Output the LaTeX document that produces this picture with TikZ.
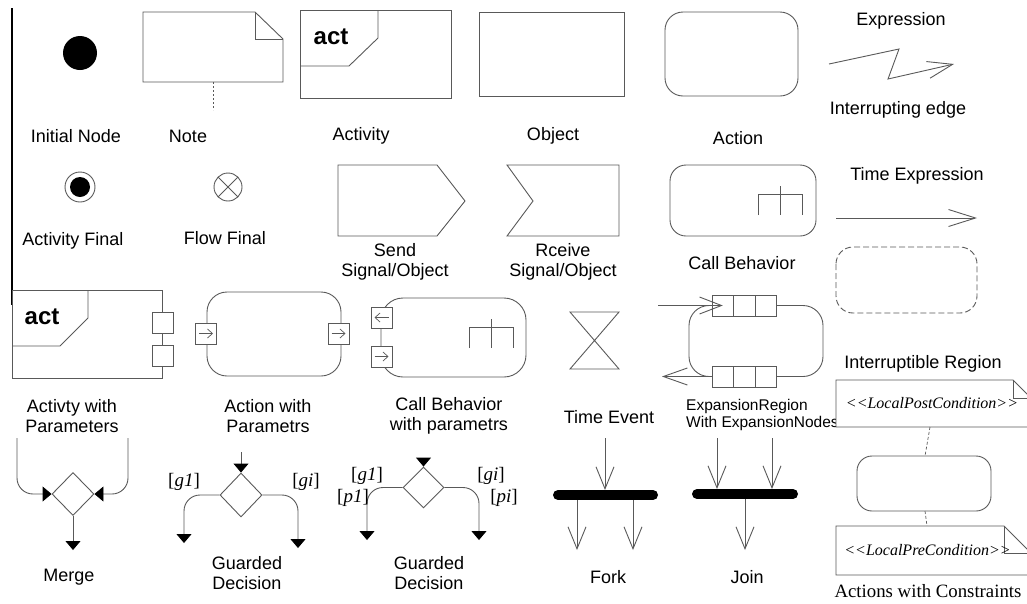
\documentclass[tikz,border=0pt]{standalone}
\usepackage{fontspec}
\setmainfont{Liberation Sans}
\newfontfamily\timesfont{Liberation Serif}
\usetikzlibrary{arrows.meta,shapes.geometric}

\tikzset{
  shp/.style={draw=black!65, line width=0.9pt},
  lbl/.style={font=\fontsize{18}{20}\selectfont, align=center, inner sep=0pt},
  exptext/.style={font=\fontsize{15.5}{16.5}\selectfont, align=left, inner sep=0pt},
  guard/.style={font=\timesfont\fontsize{19}{21}\selectfont, inner sep=0pt},
  cond/.style={font=\timesfont\itshape\fontsize{16}{18}\selectfont, inner sep=0pt},
  acttag/.style={font=\bfseries\fontsize{24}{26}\selectfont, inner sep=0pt},
  solid arr/.style={-{Triangle[length=9pt,width=15pt,color=black]}},
  open arr/.style={-{Straight Barb[length=22pt,width=18pt]}},
  pinarr/.style={-{Straight Barb[length=5pt,width=9pt]}, line width=0.7pt},
  syncbar/.style={line width=10pt, line cap=round},
  pinbox/.style={shp, fill=white, minimum width=21pt, minimum height=21pt, inner sep=0pt},
  decision/.style={shp, diamond, inner sep=0pt, minimum width=42pt, minimum height=43pt},
}

\begin{document}
\begin{tikzpicture}[x=1pt,y=-1pt]
  \useasboundingbox (0,0) rectangle (1027,603);
  \clip (0,0) rectangle (1027,603);

  \draw[line width=1.2pt] (12,8) -- (12,305);

  % --- first row
  \fill (80,53) circle (17);
  \node[lbl] (l-init) at (76,136) {Initial Node};

  \draw[shp] (143,12) -- (255,12) -- (283,39) -- (283,82) -- (143,82) -- cycle;
  \draw[shp] (255,12) -- (255,39) -- (283,39);
  \coordinate (note-foot) at (213,82);
  \coordinate (note-end) at (213,110);
  \draw[shp, dash pattern=on 2pt off 2pt] (note-foot) -- (note-end);
  \node[lbl] (l-note) at (188,136) {Note};

  \draw[shp] (300,10) rectangle (451,98);
  \draw[shp] (300,66) -- (349,66) -- (378,38) -- (378,10);
  \node[acttag] (act1) at (331,37) {act};
  \node[lbl] (l-activity) at (361,136) {Activity};

  \draw[shp] (479,12) rectangle (624,96);
  \node[lbl] (l-object) at (553,136) {Object};

  \draw[shp, rounded corners=18] (665,12) rectangle (798,96);
  \node[lbl] (l-action) at (738,138) {Action};

  \node[lbl] (l-expr) at (901,21) {Expression};
  \draw[shp, -{Straight Barb[length=25pt,width=17pt]}] (829,64) -- (899,49) -- (888,79) -- (954,64);
  \node[lbl] (l-interrupt) at (898,110) {Interrupting edge};

  % --- second row
  \draw[shp] (80,187) circle (15);
  \fill (80,187) circle (10);
  \node[lbl] (l-actfinal) at (73,241) {Activity Final};

  \draw[shp] (228,187) circle (14);
  \draw[shp] (228,187) +(45:14) -- +(225:14) +(135:14) -- +(-45:14);
  \node[lbl] (l-flowfinal) at (225,238) {Flow Final};

  \draw[shp] (338,165) -- (437,165) -- (465,201) -- (437,236) -- (338,236) -- cycle;
  \node[lbl] (l-send) at (395,262) {Send\\Signal/Object};

  \draw[shp] (507,165) -- (619,165) -- (619,236) -- (507,236) -- (533,201) -- cycle;
  \node[lbl] (l-receive) at (563,262) {Rceive\\Signal/Object};

  \draw[shp, rounded corners=16] (670,165) rectangle (816,236);
  \draw[shp] (758,215) -- (758,194) -- (802,194) -- (802,215) (780,186) -- (780,215);
  \node[lbl] (l-call) at (742,263) {Call Behavior};

  \node[lbl] (l-time) at (917,176) {Time Expression};
  \coordinate (te-a) at (836,218);
  \coordinate (te-b) at (977,218);
  \draw[shp, -{Straight Barb[length=27pt,width=17pt]}] (te-a) -- (te-b);
  \draw[shp, dash pattern=on 6pt off 3pt, rounded corners=17] (836,247) rectangle (977,313);

  % --- third row
  \draw[shp] (12,290) rectangle (162,378);
  \draw[shp] (12,346) -- (60,346) -- (88,318) -- (88,290);
  \node[acttag] (act2) at (42,317) {act};
  \node[pinbox] (ap1) at (162.5,322.5) {};
  \node[pinbox] (ap2) at (162.5,355.5) {};
  \node[lbl] (l-actparam) at (72,416) {Activty with\\Parameters};

  \draw[shp, rounded corners=20] (207,292) rectangle (341,376);
  \node[pinbox] (in1) at (206,333.5) {};
  \node[pinbox] (out1) at (338.5,333.5) {};
  \draw[shp, pinarr] ([xshift=-7pt]in1.center) -- ([xshift=7pt]in1.center);
  \draw[shp, pinarr] ([xshift=-7pt]out1.center) -- ([xshift=7pt]out1.center);
  \node[lbl] (l-actionparam) at (268,416) {Action with\\Parametrs};

  \draw[shp, rounded corners=22] (381,298) rectangle (526,377);
  \node[pinbox] (in2) at (381.5,317.5) {};
  \node[pinbox] (out2) at (381.5,356.5) {};
  \draw[shp, pinarr] ([xshift=7pt]in2.center) -- ([xshift=-7pt]in2.center);
  \draw[shp, pinarr] ([xshift=-7pt]out2.center) -- ([xshift=7pt]out2.center);
  \draw[shp] (469,348) -- (469,327) -- (513,327) -- (513,348) (491,319) -- (491,348);
  \node[lbl] (l-callparam) at (449,416) {Call Behavior\\with parametrs};

  \draw[shp] (570,312) -- (619,312) -- (570,369) -- (619,369) -- cycle;
  \node[lbl] (l-timeevent) at (609,417) {Time Event};

  % expansion region
  \draw[shp, rounded corners=20] (689,305.5) rectangle (823,376.5);
  \foreach \i/\x in {1/722.75, 2/744.25, 3/765.75} {
    \node[pinbox, minimum width=21.5pt] (ein\i) at (\x,305.5) {};
    \node[pinbox, minimum width=21.5pt] (eout\i) at (\x,376.5) {};
  }
  \coordinate (exp-src) at (658,305.5);
  \coordinate (exp-dst) at (662,376.5);
  \draw[shp, -{Straight Barb[length=22pt,width=17pt]}] (exp-src) -- (ein1.center);
  \draw[shp, -{Straight Barb[length=24pt,width=17pt]}] (eout1.west) -- (exp-dst);
  \node[exptext, anchor=west] (l-expansion) at (686,415) {ExpansionRegion\\With ExpansionNodes};

  \node[lbl] (l-region) at (923,364) {Interruptible Region};

  % notes with constraints
  \draw[shp, fill=white] (836,380) -- (1013,380) -- (1031,398) -- (1031,427) -- (836,427) -- cycle;
  \draw[shp] (1013,380) -- (1013,398) -- (1031,398);
  \node[cond] (post) at (932,403) {<{}<LocalPostCondition>{}>};

  \draw[shp, rounded corners=15] (857,456) rectangle (991,511);
  \coordinate (post-foot) at (930,427);
  \coordinate (act-top) at (925,456);
  \coordinate (act-foot) at (925,511);
  \coordinate (pre-top) at (927,526);
  \draw[shp, dash pattern=on 3pt off 2pt, line width=0.7pt] (post-foot) -- (act-top);
  \draw[shp, dash pattern=on 3pt off 2pt, line width=0.7pt] (act-foot) -- (pre-top);

  \draw[shp, fill=white] (836,526) -- (1004,526) -- (1031,553) -- (1031,575) -- (836,575) -- cycle;
  \draw[shp] (1004,526) -- (1004,553) -- (1031,553);
  \node[cond] (pre) at (927.5,550) {<{}<LocalPreCondition>{}>};
  \node[font=\timesfont\fontsize{18.8}{21}\selectfont, inner sep=0pt] (l-constraints) at (928,591) {Actions with Constraints};

  % --- fourth row
  \node[decision] (merge) at (73,494) {};
  \coordinate (m-in1) at (17,438);
  \coordinate (m-in2) at (128,438);
  \coordinate (m-out) at (73,550);
  \draw[shp, solid arr, rounded corners=16] (m-in1) |- (merge.west);
  \draw[shp, solid arr, rounded corners=16] (m-in2) |- (merge.east);
  \draw[shp, solid arr] (merge.south) -- (m-out);
  \node[lbl] (l-merge) at (69,577) {Merge};

  \node[decision, minimum height=44pt] (gd1) at (241,495) {};
  \coordinate (gd1-in) at (241,452);
  \coordinate (gd1-l) at (184,543);
  \coordinate (gd1-r) at (298,548);
  \draw[shp, solid arr] (gd1-in) -- (gd1.north);
  \draw[shp, solid arr, rounded corners=16] (gd1.west) -| (gd1-l);
  \draw[shp, solid arr, rounded corners=16] (gd1.east) -| (gd1-r);
  \node[guard] (g1a) at (184,482) {[\textit{g1}]};
  \node[guard] (gia) at (306,482) {[\textit{gi}]};
  \node[lbl] (l-guard1) at (247,573) {Guarded\\Decision};

  \node[decision, minimum width=41pt, minimum height=41pt] (gd2) at (423.5,487.5) {};
  \coordinate (gd2-in) at (423.5,458);
  \coordinate (gd2-l) at (367,540);
  \coordinate (gd2-r) at (479,540);
  \draw[shp, solid arr] (gd2-in) -- (gd2.north);
  \draw[shp, solid arr, rounded corners=16] (gd2.west) -| (gd2-l);
  \draw[shp, solid arr, rounded corners=16] (gd2.east) -| (gd2-r);
  \node[guard] (g1b) at (367,476) {[\textit{g1}]};
  \node[guard] (p1b) at (353,498) {[\textit{p1}]};
  \node[guard] (gib) at (491,476) {[\textit{gi}]};
  \node[guard] (pib) at (504,498) {[\textit{pi}]};
  \node[lbl] (l-guard2) at (429,573) {Guarded\\Decision};

  % fork
  \coordinate (fork-l) at (558,495);
  \coordinate (fork-r) at (653,495);
  \draw[syncbar] (fork-l) -- (fork-r);
  \draw[shp, open arr] (605,438) -- (605,490);
  \draw[shp, open arr] (577,500) -- (577,550);
  \draw[shp, open arr] (633,500) -- (633,550);
  \node[lbl] (l-fork) at (608,577) {Fork};

  % join
  \coordinate (join-l) at (697,494);
  \coordinate (join-r) at (793,494);
  \draw[syncbar] (join-l) -- (join-r);
  \draw[shp, open arr] (717,438) -- (717,489);
  \draw[shp, open arr] (772,438) -- (772,489);
  \draw[shp, open arr] (745,499) -- (745,550);
  \node[lbl] (l-join) at (747,577) {Join};
\end{tikzpicture}
\end{document}
